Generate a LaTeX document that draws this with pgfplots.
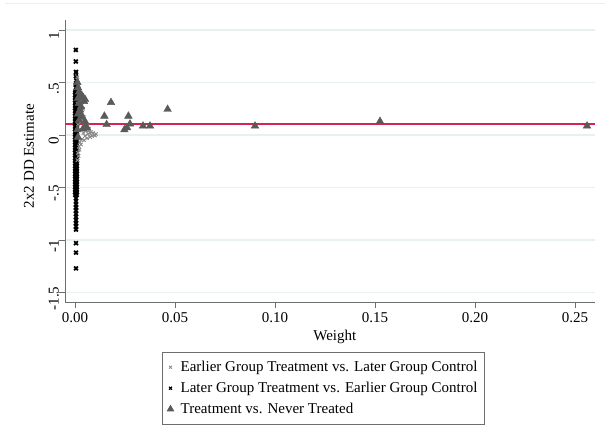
\documentclass[border=0pt]{standalone}
\usepackage{pgfplots}
\pgfplotsset{compat=1.18}
\usepackage{fontspec}
\setmainfont{Liberation Serif}
\definecolor{gridc}{RGB}{232,240,241}
\definecolor{redl}{RGB}{215,35,80}
\definecolor{tri}{RGB}{90,90,90}
\definecolor{lgx}{RGB}{140,140,140}
\definecolor{axc}{RGB}{110,110,110}
\begin{document}
\begin{tikzpicture}[x=1pt,y=1pt]
\useasboundingbox (0,0) rectangle (605,-434);
\draw[gridc, line width=1pt] (5,-3) -- (605,-3);
\begin{axis}[
  at={(65pt,-302pt)}, anchor=south west,
  scale only axis, width=530pt, height=282pt,
  xmin=-0.005, xmax=0.26, ymin=-1.59, ymax=1.095,
  axis x line*=bottom, axis y line*=left,
  axis line style={axc, line width=0.9pt},
  tick style={axc, line width=0.9pt},
  tick align=outside, major tick length=6pt,
  xtick={0,0.05,0.10,0.15,0.20,0.25},
  xticklabels={0.00,0.05,0.10,0.15,0.20,0.25},
  ytick={-1.5,-1,-0.5,0,0.5,1},
  yticklabels={-1.5,-1,-.5,0,.5,1},
  font=\fontsize{15}{17}\selectfont,
  ticklabel style={font=\fontsize{15}{17}\selectfont},
  yticklabel style={rotate=90, anchor=south, inner sep=0pt, xshift=-6pt},
  xticklabel style={anchor=north, inner sep=0pt, yshift=-4pt},
  ymajorgrids, grid style={gridc, line width=1.2pt},
  ylabel={2x2 DD Estimate},
  ylabel style={at={(axis description cs:-0.068,0.518)}, anchor=center, rotate=0},
  xlabel={Weight},
  xlabel style={at={(axis description cs:0.509,-0.124)}, anchor=center},
  legend style={at={(axis description cs:0.183,-0.177)}, anchor=north west,
    draw=axc, line width=0.8pt, font=\fontsize{15}{17}\selectfont,
    row sep=5pt, column sep=5pt, inner xsep=5pt, inner ysep=7pt, cells={anchor=west}},
  legend cell align=left,
  clip=false,
]
\addlegendimage{only marks, mark=x, mark size=2pt, mark options={lgx, line width=0.8pt}}
\addlegendentry{Earlier Group Treatment vs. Later Group Control}
\addlegendimage{only marks, mark=x, mark size=2pt, mark options={black, line width=1.2pt}}
\addlegendentry{Later Group Treatment vs. Earlier Group Control}
\addlegendimage{only marks, mark=triangle*, mark size=3.6pt, mark options={tri, draw=tri}}
\addlegendentry{Treatment vs. Never Treated}

% average line
\addplot[forget plot, redl, line width=1.1pt] coordinates {(-0.005,0.105) (0.26,0.105)};

% Later Group Treatment vs. Earlier Group Control (black x)
\addplot[forget plot, only marks, mark=x, mark size=2.7pt, mark options={black, line width=1.8pt}] coordinates {
(0.0001,-0.57) (0.0009,-0.545) (0.0001,-0.52) (0.0009,-0.495) (0.0001,-0.47) (0.0009,-0.445)
(0.0001,-0.42) (0.0009,-0.395) (0.0001,-0.37) (0.0009,-0.345) (0.0001,-0.32) (0.0009,-0.295)
(0.0001,-0.27) (0.0009,-0.245) (0.0001,-0.22) (0.0009,-0.195) (0.0001,-0.17) (0.0009,-0.145)
(0.0001,-0.12) (0.0009,-0.095) (0.0001,-0.07) (0.0009,-0.045) (0.0001,-0.02) (0.0009,0.005)
(0.0001,0.03) (0.0009,0.055) (0.0001,0.08) (0.0009,0.105) (0.0001,0.13) (0.0009,0.155)
(0.0001,0.18) (0.0009,0.205) (0.0001,0.23) (0.0009,0.255) (0.0001,0.28) (0.0009,0.305)
(0.0001,0.33) (0.0009,0.355) (0.0001,0.38) (0.0009,0.405) (0.0005,0.42)
(0.0009,-0.57) (0.0001,-0.545) (0.0009,-0.52) (0.0001,-0.495) (0.0009,-0.47) (0.0001,-0.445)
(0.0009,-0.42) (0.0001,-0.395) (0.0009,-0.37) (0.0001,-0.345) (0.0009,-0.32) (0.0001,-0.295)
(0.0009,-0.27) (0.0001,-0.245) (0.0009,-0.22) (0.0001,-0.195) (0.0009,-0.17) (0.0001,-0.145)
(0.0009,-0.12) (0.0001,-0.095) (0.0009,-0.07) (0.0001,-0.045) (0.0009,-0.02) (0.0001,0.005)
(0.0009,0.03) (0.0001,0.055) (0.0009,0.08) (0.0001,0.105) (0.0009,0.13) (0.0001,0.155)
(0.0009,0.18) (0.0001,0.205) (0.0009,0.23) (0.0001,0.255) (0.0009,0.28) (0.0001,0.305)
(0.0009,0.33) (0.0001,0.355) (0.0009,0.38) (0.0001,0.405)
(0.0005,-0.5575) (0.0005,-0.5325) (0.0005,-0.5075) (0.0005,-0.4825) (0.0005,-0.4575)
(0.0005,-0.4325) (0.0005,-0.4075) (0.0005,-0.3825) (0.0005,-0.3575) (0.0005,-0.3325)
(0.0005,-0.3075) (0.0005,-0.2825) (0.0005,-0.2575) (0.0005,-0.2325) (0.0005,-0.2075)
(0.0005,-0.1825) (0.0005,-0.1575) (0.0005,-0.1325) (0.0005,-0.1075) (0.0005,-0.0825)
(0.0005,-0.0575) (0.0005,-0.0325) (0.0005,-0.0075) (0.0005,0.0175) (0.0005,0.0425)
(0.0005,0.0675) (0.0005,0.0925) (0.0005,0.1175) (0.0005,0.1425) (0.0005,0.1675)
(0.0005,0.1925) (0.0005,0.2175) (0.0005,0.2425) (0.0005,0.2675) (0.0005,0.2925)
(0.0005,0.3175) (0.0005,0.3425) (0.0005,0.3675) (0.0005,0.3925) (0.0005,0.4175)
(0.0004,0.81) (0.0004,0.70) (0.0005,0.60) (0.0004,0.56) (0.0006,0.52) (0.0004,0.48) (0.0005,0.45)
(0.0005,-0.60) (0.0005,-0.63) (0.0005,-0.66) (0.0005,-0.69) (0.0005,-0.72) (0.0005,-0.75)
(0.0005,-0.78) (0.0005,-0.81) (0.0005,-0.84) (0.0005,-0.87) (0.0005,-0.90)
(0.0005,-1.03) (0.0005,-1.12) (0.0005,-1.27)
};

% Earlier Group Treatment vs. Later Group Control (grey x)
\addplot[forget plot, only marks, mark=x, mark size=2.4pt, mark options={lgx, line width=0.9pt}] coordinates {
(0.0012,0.55) (0.0015,0.50) (0.002,0.47) (0.0018,0.44) (0.0025,0.40) (0.003,0.37)
(0.0022,0.34) (0.0035,0.31) (0.0028,0.28) (0.004,0.25) (0.002,0.22) (0.0032,0.20)
(0.0045,0.17) (0.0025,0.15) (0.0038,0.13) (0.005,0.11) (0.006,0.09) (0.0045,0.07)
(0.007,0.06) (0.0055,0.04) (0.008,0.03) (0.0065,0.01) (0.009,0.02) (0.0095,0.0)
(0.0105,0.01) (0.0085,-0.01) (0.0075,-0.02) (0.006,-0.03) (0.0045,-0.05) (0.0035,-0.04)
(0.0025,-0.07) (0.003,-0.09) (0.002,-0.11) (0.0022,-0.14) (0.0015,-0.17) (0.0018,-0.20)
(0.0012,-0.24) (0.0012,0.30) (0.0015,0.10) (0.0015,-0.02) (0.0035,0.05) (0.0042,0.02)
(0.005,-0.01) (0.0068,0.045) (0.0075,0.02) (0.01,-0.005)
};

% Treatment vs. Never Treated (triangles)
\addplot[forget plot, only marks, mark=triangle*, mark size=4.4pt, mark options={tri, draw=tri}] coordinates {
(0.0012,0.50) (0.0015,0.45) (0.002,0.41) (0.0025,0.38) (0.0033,0.38) (0.004,0.36)
(0.005,0.34) (0.0045,0.32) (0.002,0.30) (0.003,0.27) (0.0025,0.24) (0.003,0.20)
(0.0035,0.17) (0.002,0.14) (0.005,0.13) (0.0055,0.085) (0.006,0.07) (0.004,0.06)
(0.0015,0.20) (0.0015,0.35) (0.0012,0.05) (0.0015,-0.02)
(0.0147,0.18) (0.0158,0.10) (0.018,0.31) (0.0247,0.05) (0.026,0.07) (0.0267,0.18)
(0.0275,0.105) (0.034,0.086) (0.0375,0.086) (0.0463,0.245) (0.09,0.086) (0.1525,0.13)
(0.256,0.086)
};
\end{axis}
\end{tikzpicture}
\end{document}
